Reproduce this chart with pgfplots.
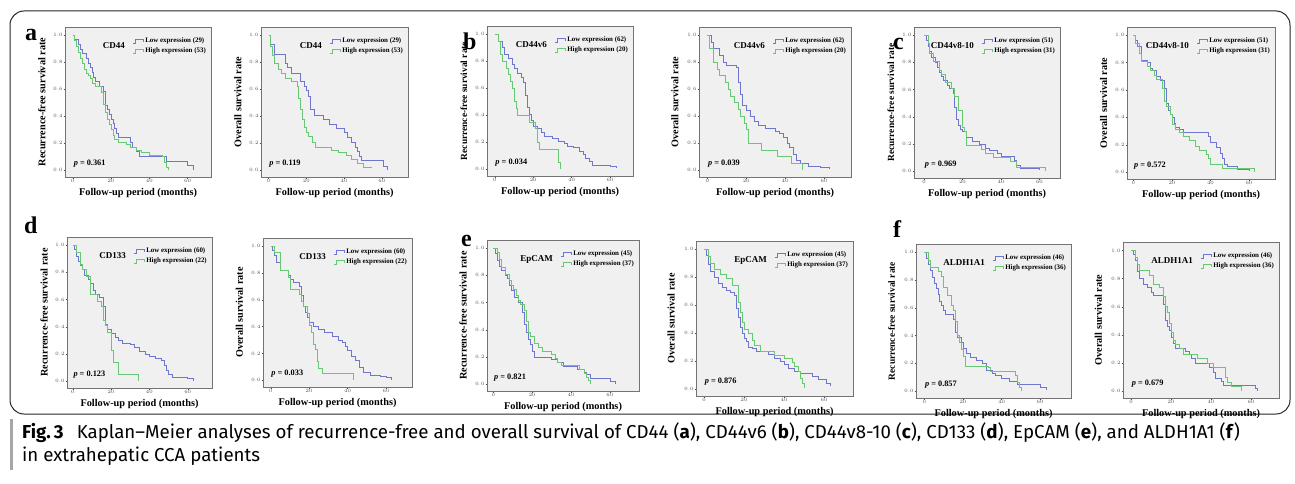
\documentclass[border=0pt]{standalone}
\usepackage{pgfplots}
\pgfplotsset{compat=1.18}
\usepackage{fontspec}
\setmainfont{Liberation Serif}
\newfontfamily\capfont[Ligatures=TeX]{Fira Sans}
\definecolor{kmblue}{RGB}{110,118,208}
\definecolor{kmgreen}{RGB}{105,200,115}
\definecolor{plotbg}{RGB}{240,240,240}
\pgfplotsset{
 km/.style={
  scale only axis, anchor=north west,
  ymin=-0.05, ymax=1.06, xmin=-4,
  xtick={0,20,40,60}, ytick={0,0.2,0.4,0.6,0.8,1.0},
  yticklabel style={/pgf/number format/.cd, fixed, fixed zerofill, precision=1},
  tick label style={font=\fontsize{3.2}{3.2}\selectfont, text=black!70, inner sep=0.8pt},
  tick align=outside, tick pos=left, major tick length=1.5pt,
  every tick/.style={black!70, line width=0.3pt},
  axis line style={black!55, line width=0.7pt},
  axis background/.style={fill=plotbg},
  every axis y label/.style={at={(axis description cs:-0.158,0.5)}, rotate=90, anchor=center,
     font=\bfseries\fontsize{10.2}{11}\selectfont},
  every axis x label/.style={at={(axis description cs:0.5,-0.105)}, anchor=center,
     font=\bfseries\fontsize{10.3}{11}\selectfont},
  xlabel={Follow-up period (months)},
  legend cell align=left,
  legend style={at={(1,1)}, anchor=north east, xshift=-3pt, yshift=-9pt, draw=none, fill=none,
    font=\bfseries\fontsize{6.9}{8}\selectfont, inner sep=0pt, row sep=-0.5pt},
  legend image code/.code={\draw[#1, line width=0.8pt] (0pt,-1.8pt) -- (2.5pt,-1.8pt) -- (2.5pt,1.8pt) -- (10pt,1.8pt) -- (10pt,-1pt);},
 },
 smalllab/.style={ylabel style={font=\bfseries\fontsize{9.4}{10}\selectfont}},
 lowc/.style={const plot, no marks, color=kmblue, line width=0.65pt},
 highc/.style={const plot, no marks, color=kmgreen, line width=0.65pt},
}
\tikzset{
 gene/.style={anchor=east, font=\bfseries\fontsize{9}{9}\selectfont, xshift=-86pt, yshift=-19pt, inner sep=0pt},
 pval/.style={anchor=west, font=\bfseries\fontsize{8.3}{9}\selectfont, inner sep=0pt},
 letter/.style={anchor=base west, font=\bfseries\fontsize{24}{24}\selectfont, inner sep=0pt},
}
\begin{document}
\begin{tikzpicture}
\path[use as bounding box] (0pt,0pt) rectangle (1295pt,-484pt);
\draw[rounded corners=14pt, line width=1pt, black!85] (10pt,-11pt) rectangle (1290pt,-414pt);

% ---------- a RFS
\begin{axis}[km, at={(65pt,-27pt)}, width=146pt, height=150pt, xmax=72.2, ylabel={Recurrence-free survival rate}]
\addplot[lowc] coordinates {(0,1)(1,0.966)(3,0.931)(4,0.897)(5,0.862)(7,0.828)(8,0.793)(9,0.759)(10,0.724)(11,0.69)(12,0.655)(14,0.621)(16,0.586)(17,0.483)(18,0.448)(19,0.414)(20,0.379)(21,0.345)(22,0.31)(23,0.276)(24,0.241)(30,0.207)(31,0.172)(33,0.138)(35,0.103)(49,0.069)(60,0.034)(63,0.0)};
\addlegendentry{Low expression (29)}
\addplot[highc] coordinates {(0,1)(1,0.96)(2,0.92)(3,0.87)(4,0.83)(5,0.79)(6,0.75)(7,0.72)(8,0.70)(9,0.68)(10,0.64)(12,0.62)(15,0.58)(16,0.49)(17,0.43)(18,0.38)(19,0.34)(20,0.30)(21,0.26)(22,0.23)(24,0.21)(28,0.19)(30,0.17)(33,0.15)(36,0.13)(40,0.11)(47,0.10)(48,0.06)(49,0.02)(50,0.0)};
\addlegendentry{High expression (53)}
\node[gene] at (rel axis cs:1,1) {CD44};
\node[pval] at (axis cs:0.5,0.05) {\textit{p} = 0.361};
\end{axis}
% ---------- a OS
\begin{axis}[km, at={(261pt,-27pt)}, width=147pt, height=150pt, xmax=73.9, ylabel={Overall survival rate}]
\addplot[lowc] coordinates {(0,1)(1,0.93)(3,0.86)(9,0.79)(10,0.76)(12,0.72)(17,0.66)(19,0.62)(20,0.59)(21,0.55)(22,0.45)(24,0.41)(29,0.38)(32,0.34)(36,0.31)(40,0.28)(42,0.24)(44,0.21)(46,0.17)(47,0.14)(48,0.10)(49,0.07)(61,0.03)(63,0.0)};
\addlegendentry{Low expression (29)}
\addplot[highc] coordinates {(0,1)(1,0.92)(2,0.85)(3,0.79)(5,0.75)(7,0.72)(9,0.68)(12,0.66)(15,0.62)(16,0.53)(17,0.45)(18,0.38)(19,0.32)(20,0.28)(21,0.25)(23,0.21)(25,0.17)(33,0.15)(37,0.13)(41,0.11)(44,0.08)(47,0.05)(50,0.02)(55,0.02)};
\addlegendentry{High expression (53)}
\node[gene] at (rel axis cs:1,1) {CD44};
\node[pval] at (axis cs:0.3,0.05) {\textit{p} = 0.119};
\end{axis}
% ---------- b RFS
\begin{axis}[km, smalllab, at={(487pt,-26pt)}, width=146pt, height=150pt, xmax=71.9, ylabel={Recurrence-free survival rate}]
\addplot[lowc] coordinates {(0,1)(2,0.95)(4,0.9)(5,0.85)(7,0.82)(9,0.78)(10,0.75)(12,0.71)(14,0.68)(15,0.64)(16,0.55)(17,0.46)(18,0.41)(19,0.36)(20,0.32)(22,0.30)(24,0.27)(26,0.24)(30,0.23)(33,0.21)(36,0.19)(38,0.17)(41,0.16)(44,0.13)(46,0.11)(47,0.08)(49,0.06)(51,0.03)(60,0.02)(63,0.01)};
\addlegendentry{Low expression (62)}
\addplot[highc] coordinates {(0,1)(2,0.95)(3,0.85)(4,0.8)(6,0.75)(7,0.7)(8,0.65)(9,0.6)(10,0.5)(11,0.45)(12,0.4)(18,0.35)(21,0.3)(22,0.2)(23,0.15)(33,0.05)(34,0.0)};
\addlegendentry{High expression (20)}
\node[gene] at (rel axis cs:1,1) {CD44v6};
\node[pval] at (axis cs:0.3,0.05) {\textit{p} = 0.034};
\end{axis}
% ---------- b OS
\begin{axis}[km, at={(699pt,-27pt)}, width=152pt, height=150pt, xmin=-4.3, xmax=73.9, ylabel={Overall survival rate}]
\addplot[lowc] coordinates {(0,1)(2,0.95)(3,0.9)(6,0.85)(8,0.8)(10,0.78)(15,0.76)(16,0.65)(17,0.56)(18,0.48)(20,0.44)(22,0.4)(24,0.36)(26,0.33)(30,0.31)(35,0.29)(37,0.27)(39,0.24)(41,0.2)(42,0.17)(44,0.12)(46,0.07)(48,0.05)(52,0.03)(58,0.02)(63,0.01)};
\addlegendentry{Low expression (62)}
\addplot[highc] coordinates {(0,1)(1,0.9)(3,0.8)(5,0.75)(6,0.7)(9,0.65)(11,0.6)(12,0.55)(14,0.5)(16,0.45)(17,0.4)(19,0.35)(20,0.3)(21,0.2)(28,0.15)(36,0.1)(43,0.05)(49,0.0)};
\addlegendentry{High expression (20)}
\node[gene] at (rel axis cs:1,1) {CD44v6};
\node[pval] at (axis cs:0.3,0.05) {\textit{p} = 0.039};
\end{axis}
% ---------- c RFS
\begin{axis}[km, smalllab, at={(914pt,-27pt)}, width=146pt, height=151pt, xmin=-5.2, xmax=70.7, ylabel={Recurrence-free survival rate}]
\addplot[lowc] coordinates {(0,1)(1,0.96)(2,0.92)(3,0.88)(4,0.84)(6,0.8)(7,0.76)(8,0.73)(9,0.7)(10,0.67)(12,0.63)(13,0.61)(15,0.57)(16,0.47)(17,0.38)(18,0.34)(19,0.31)(20,0.29)(22,0.25)(25,0.22)(29,0.2)(32,0.17)(34,0.15)(38,0.13)(40,0.11)(47,0.08)(48,0.04)(50,0.02)(60,0.01)};
\addlegendentry{Low expression (51)}
\addplot[highc] coordinates {(0,1)(2,0.94)(3,0.87)(5,0.81)(8,0.74)(9,0.71)(11,0.65)(14,0.61)(16,0.55)(18,0.45)(20,0.32)(21,0.29)(22,0.19)(30,0.16)(32,0.13)(36,0.10)(45,0.07)(48,0.03)(63,0.0)};
\addlegendentry{High expression (31)}
\node[gene] at (rel axis cs:1,1) {CD44v8-10};
\node[pval] at (axis cs:0.3,0.05) {\textit{p} = 0.969};
\end{axis}
% ---------- c OS
\begin{axis}[km, at={(1127pt,-27pt)}, width=148pt, height=152pt, xmin=-3.3, xmax=73.5, ylabel={Overall survival rate}]
\addplot[lowc] coordinates {(0,1)(1,0.96)(2,0.92)(4,0.82)(7,0.8)(9,0.76)(10,0.74)(12,0.7)(14,0.67)(16,0.61)(17,0.5)(18,0.45)(19,0.42)(20,0.4)(21,0.36)(22,0.33)(24,0.31)(26,0.29)(39,0.26)(40,0.22)(43,0.18)(45,0.14)(46,0.1)(47,0.06)(49,0.04)(54,0.02)(60,0.01)};
\addlegendentry{Low expression (51)}
\addplot[highc] coordinates {(0,1)(1,0.94)(3,0.87)(4,0.81)(7,0.77)(9,0.74)(11,0.71)(12,0.68)(15,0.61)(16,0.52)(17,0.48)(19,0.42)(20,0.35)(22,0.31)(24,0.29)(26,0.26)(29,0.23)(32,0.19)(34,0.16)(38,0.13)(39,0.1)(40,0.06)(46,0.03)(63,0.0)};
\addlegendentry{High expression (31)}
\node[gene] at (rel axis cs:1,1) {CD44v8-10};
\node[pval] at (axis cs:0.3,0.05) {\textit{p} = 0.572};
\end{axis}
% ---------- d RFS
\begin{axis}[km, at={(67pt,-237pt)}, width=145pt, height=151pt, xmin=-3, xmax=72.7, ylabel={Recurrence-free survival rate}]
\addplot[lowc] coordinates {(0,1)(1,0.97)(2,0.92)(3,0.88)(4,0.85)(5,0.82)(6,0.78)(8,0.75)(9,0.72)(11,0.67)(12,0.64)(14,0.62)(16,0.55)(17,0.42)(18,0.38)(20,0.35)(22,0.32)(24,0.3)(26,0.28)(30,0.27)(32,0.25)(35,0.22)(38,0.2)(40,0.18)(43,0.17)(46,0.15)(48,0.12)(49,0.08)(50,0.05)(52,0.03)(60,0.02)(63,0.0)};
\addlegendentry{Low expression (60)}
\addplot[highc] coordinates {(0,1)(2,0.95)(4,0.86)(5,0.82)(7,0.77)(9,0.64)(13,0.59)(15,0.55)(16,0.45)(17,0.41)(18,0.36)(20,0.23)(21,0.14)(24,0.05)(34,0.0)};
\addlegendentry{High expression (22)}
\node[gene] at (rel axis cs:1,1) {CD133};
\node[pval] at (axis cs:0.3,0.05) {\textit{p} = 0.123};
\end{axis}
% ---------- d OS
\begin{axis}[km, at={(263pt,-238pt)}, width=149pt, height=149pt, xmax=73.5, ylabel={Overall survival rate}]
\addplot[lowc] coordinates {(0,1)(1,0.97)(2,0.93)(3,0.88)(5,0.82)(9,0.78)(10,0.75)(12,0.73)(15,0.7)(16,0.63)(17,0.55)(18,0.51)(19,0.47)(20,0.43)(22,0.4)(25,0.38)(28,0.36)(32,0.33)(35,0.3)(37,0.28)(39,0.25)(40,0.22)(42,0.18)(44,0.15)(46,0.1)(48,0.06)(52,0.04)(57,0.03)(60,0.02)(63,0.0)};
\addlegendentry{Low expression (60)}
\addplot[highc] coordinates {(0,1)(2,0.95)(5,0.82)(9,0.77)(10,0.68)(15,0.64)(16,0.59)(17,0.55)(19,0.5)(20,0.41)(21,0.36)(22,0.27)(23,0.23)(24,0.14)(25,0.09)(27,0.05)(43,0.0)};
\addlegendentry{High expression (22)}
\node[gene] at (rel axis cs:1,1) {CD133};
\node[pval] at (axis cs:0.3,0.05) {\textit{p} = 0.033};
\end{axis}
% ---------- e RFS
\begin{axis}[km, at={(487pt,-240pt)}, width=152pt, height=151pt, xmin=-3.3, xmax=75, ylabel={Recurrence-free survival rate}]
\addplot[lowc] coordinates {(0,1)(1,0.96)(2,0.91)(3,0.87)(4,0.84)(6,0.8)(7,0.78)(8,0.73)(9,0.69)(11,0.64)(13,0.6)(15,0.53)(16,0.44)(17,0.38)(18,0.33)(19,0.29)(20,0.24)(21,0.2)(30,0.18)(33,0.16)(36,0.13)(43,0.11)(47,0.09)(48,0.07)(50,0.04)(60,0.02)(63,0.0)};
\addlegendentry{Low expression (45)}
\addplot[highc] coordinates {(0,1)(2,0.97)(3,0.92)(4,0.86)(6,0.81)(8,0.76)(9,0.73)(10,0.7)(12,0.65)(13,0.62)(14,0.59)(16,0.54)(17,0.46)(18,0.38)(19,0.35)(21,0.3)(23,0.27)(25,0.24)(30,0.22)(32,0.19)(33,0.16)(35,0.14)(44,0.11)(47,0.08)(48,0.05)(49,0.03)(50,0.0)};
\addlegendentry{High expression (37)}
\node[gene] at (rel axis cs:1,1) {EpCAM};
\node[pval] at (axis cs:0.3,0.05) {\textit{p} = 0.821};
\end{axis}
% ---------- e OS
\begin{axis}[km, at={(696pt,-241pt)}, width=157pt, height=155pt, xmax=74.5, ylabel={Overall survival rate}]
\addplot[lowc] coordinates {(0,1)(1,0.96)(2,0.89)(3,0.84)(5,0.8)(7,0.76)(9,0.73)(11,0.71)(13,0.69)(15,0.67)(16,0.58)(17,0.51)(18,0.44)(19,0.4)(20,0.36)(21,0.34)(22,0.3)(24,0.29)(26,0.27)(32,0.25)(35,0.22)(38,0.2)(40,0.18)(42,0.15)(45,0.13)(48,0.11)(54,0.09)(57,0.07)(61,0.04)(63,0.02)};
\addlegendentry{Low expression (45)}
\addplot[highc] coordinates {(0,1)(2,0.95)(3,0.9)(5,0.86)(8,0.82)(11,0.79)(14,0.74)(17,0.62)(18,0.55)(19,0.48)(20,0.43)(22,0.4)(24,0.35)(25,0.31)(28,0.27)(35,0.24)(40,0.22)(44,0.19)(45,0.16)(47,0.13)(48,0.08)(49,0.04)(50,0.01)};
\addlegendentry{High expression (37)}
\node[gene] at (rel axis cs:1,1) {EpCAM};
\node[pval] at (axis cs:0.3,0.05) {\textit{p} = 0.876};
\end{axis}
% ---------- f RFS
\begin{axis}[km, smalllab, at={(916pt,-244pt)}, width=155pt, height=154pt, xmin=-4.3, xmax=76, ylabel={Recurrence-free survival rate}]
\addplot[lowc] coordinates {(0,1)(1,0.96)(2,0.91)(3,0.87)(4,0.82)(5,0.78)(6,0.74)(7,0.7)(8,0.65)(9,0.62)(10,0.58)(11,0.55)(15,0.52)(16,0.42)(17,0.39)(19,0.35)(20,0.31)(22,0.27)(24,0.24)(27,0.22)(30,0.2)(32,0.15)(35,0.13)(37,0.11)(40,0.09)(44,0.07)(48,0.05)(60,0.03)(63,0.01)};
\addlegendentry{Low expression (46)}
\addplot[highc] coordinates {(0,1)(2,0.94)(3,0.89)(7,0.86)(9,0.83)(10,0.75)(12,0.69)(14,0.62)(15,0.58)(16,0.5)(17,0.4)(18,0.35)(19,0.3)(20,0.25)(21,0.18)(33,0.17)(34,0.14)(47,0.11)(48,0.06)(49,0.03)(50,0.0)};
\addlegendentry{High expression (36)}
\node[gene] at (rel axis cs:1,1) {ALDH1A1};
\node[pval] at (axis cs:0.3,0.05) {\textit{p} = 0.857};
\end{axis}
% ---------- f OS
\begin{axis}[km, at={(1123pt,-242pt)}, width=156pt, height=156pt, xmax=74, ylabel={Overall survival rate}]
\addplot[lowc] coordinates {(0,1)(1,0.97)(2,0.93)(3,0.85)(4,0.8)(6,0.76)(8,0.74)(10,0.7)(11,0.68)(16,0.62)(17,0.5)(18,0.46)(19,0.43)(20,0.38)(21,0.34)(22,0.3)(27,0.28)(29,0.26)(30,0.23)(32,0.2)(39,0.17)(41,0.13)(42,0.09)(45,0.07)(46,0.04)(62,0.02)(63,0.0)};
\addlegendentry{Low expression (46)}
\addplot[highc] coordinates {(0,1)(2,0.95)(3,0.9)(4,0.86)(9,0.82)(11,0.76)(14,0.74)(16,0.67)(17,0.6)(18,0.56)(19,0.48)(20,0.42)(21,0.36)(22,0.33)(24,0.3)(26,0.26)(33,0.23)(38,0.2)(41,0.17)(47,0.1)(48,0.06)(50,0.03)(55,0.0)};
\addlegendentry{High expression (36)}
\node[gene] at (rel axis cs:1,1) {ALDH1A1};
\node[pval] at (axis cs:0.3,0.05) {\textit{p} = 0.679};
\end{axis}

% panel letters
\node[letter] at (25pt,-41pt) {a};
\node[letter] at (463pt,-50pt) {b};
\node[letter] at (893pt,-50pt) {c};
\node[letter] at (24pt,-233pt) {d};
\node[letter] at (461pt,-246pt) {e};
\node[letter] at (893pt,-237pt) {f};

% caption
\fill[black!35] (10pt,-419pt) rectangle (12.5pt,-470pt);
\node[anchor=base west, inner sep=0pt, font=\capfont\fontsize{18.7}{22}\selectfont] at (22pt,-438pt)
 {\textbf{Fig.\,3}\hspace{0.7em}Kaplan–Meier analyses of recurrence-free and overall survival of CD44 (\textbf{a}), CD44v6 (\textbf{b}), CD44v8-10 (\textbf{c}), CD133 (\textbf{d}), EpCAM (\textbf{e}), and ALDH1A1 (\textbf{f})};
\node[anchor=base west, inner sep=0pt, font=\capfont\fontsize{18.7}{22}\selectfont] at (22pt,-461pt)
 {in extrahepatic CCA patients};
\end{tikzpicture}
\end{document}
